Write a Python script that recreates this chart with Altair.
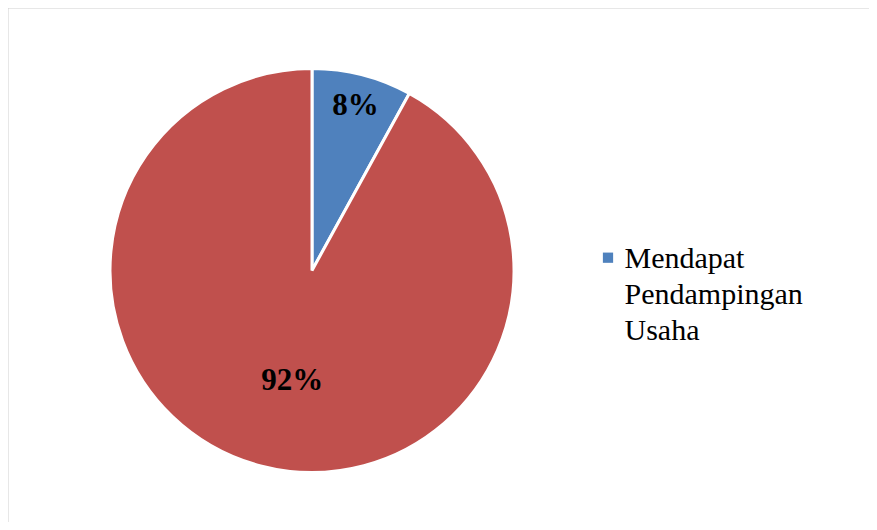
import altair as alt
import pandas as pd

categories = ["Mendapat Pendampingan Usaha", "Tidak Mendapat Pendampingan Usaha"]
values = [8, 92]
labels = ["8%", "92%"]
colors = ["#4F81BD", "#C0504D"]
legend_items = [categories[0]]

df = pd.DataFrame({
    "category": categories,
    "value": values,
    "label": labels,
    "order": list(range(len(categories))),
})
legend_df = pd.DataFrame({"category": legend_items})

W, H = 861, 514
CX, CY = 304, 262.5
R = 202
FONT = "'Times New Roman', 'Liberation Serif', serif"

color_scale = alt.Scale(domain=categories, range=colors)

base = alt.Chart(df).encode(
    theta=alt.Theta("value:Q", stack=True),
    order=alt.Order("order:Q"),
    x=alt.value(CX),
    y=alt.value(CY),
)

pie = base.mark_arc(radius=R, stroke="white", strokeWidth=3).encode(
    color=alt.Color("category:N", scale=color_scale, legend=None)
)

lbl_style = dict(font=FONT, fontSize=31, fontWeight="bold",
                 color="black", align="center", baseline="middle")

small_lbl = base.mark_text(radius=171, dx=1, dy=1, **lbl_style).encode(
    text=alt.condition(alt.datum.category == categories[0],
                       alt.Text("label:N"), alt.value(""))
)
big_lbl = base.mark_text(radius=112, dx=8, dy=2, **lbl_style).encode(
    text=alt.condition(alt.datum.category == categories[1],
                       alt.Text("label:N"), alt.value(""))
)

leg_sym = alt.Chart(legend_df).mark_square(size=105, opacity=1).encode(
    x=alt.value(600), y=alt.value(249.7),
    color=alt.Color("category:N", scale=color_scale, legend=None),
)
leg_txt = alt.Chart(legend_df).mark_text(
    font=FONT, fontSize=30, lineHeight=36, lineBreak=" ",
    align="left", baseline="alphabetic", color="black",
).encode(
    x=alt.value(616.5), y=alt.value(259.5), text="category:N"
)

border_df = pd.DataFrame({"b": [0]})
top_border = alt.Chart(border_df).mark_rule(color="#D0D0D0", strokeWidth=1).encode(
    x=alt.value(0), x2=alt.value(W), y=alt.value(0)
)
left_border = alt.Chart(border_df).mark_rule(color="#D0D0D0", strokeWidth=1).encode(
    x=alt.value(0), y=alt.value(0), y2=alt.value(H)
)

chart = alt.layer(pie, small_lbl, big_lbl, leg_sym, leg_txt, top_border, left_border).properties(
    width=W, height=H, padding=0, autosize=alt.AutoSizeParams(type="none"),
    background="white",
).configure_view(stroke=None)

chart.save("out.html", embed_options={"renderer": "svg", "actions": False})
